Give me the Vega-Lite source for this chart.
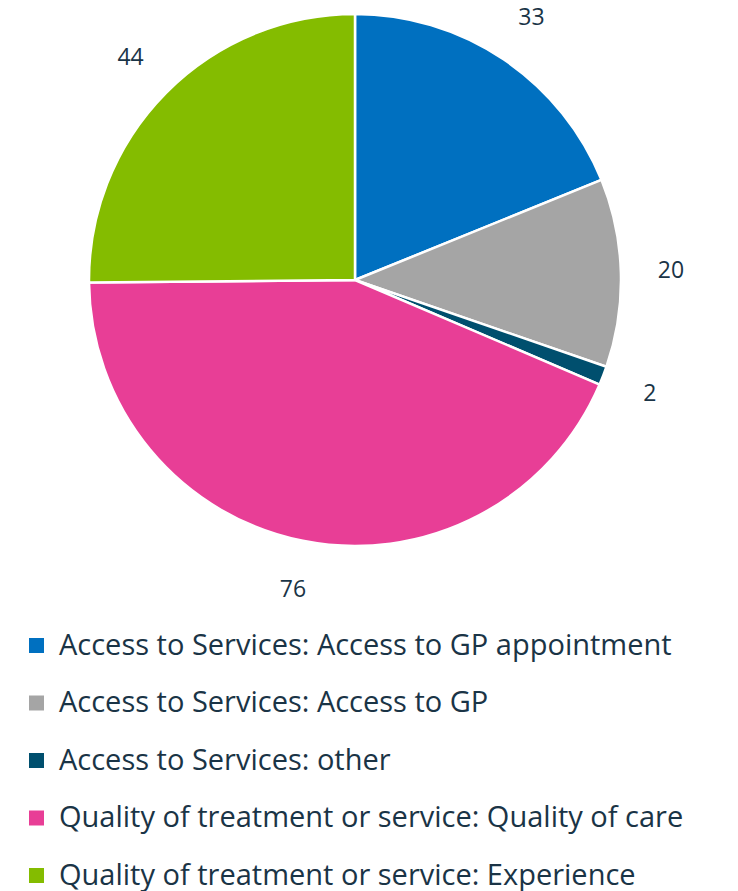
{
  "$schema": "https://vega.github.io/schema/vega-lite/v6.json",
  "width": 710,
  "height": 560,
  "autosize": {"type": "none"},
  "padding": {"left": 0, "top": 0, "right": 28, "bottom": 331},
  "background": "white",
  "config": {"view": {"stroke": null}, "font": "Open Sans"},
  "data": {
    "values": [
      {"category": "Access to Services: Access to GP appointment", "count": 33, "idx": 1},
      {"category": "Access to Services: Access to GP", "count": 20, "idx": 2},
      {"category": "Access to Services: other", "count": 2, "idx": 3},
      {"category": "Quality of treatment or service: Quality of care", "count": 76, "idx": 4},
      {"category": "Quality of treatment or service: Experience", "count": 44, "idx": 5}
    ]
  },
  "encoding": {
    "theta": {"field": "count", "type": "quantitative", "stack": true},
    "order": {"field": "idx", "type": "quantitative"}
  },
  "layer": [
    {
      "mark": {"type": "arc", "outerRadius": 266, "stroke": "white", "strokeWidth": 2.5},
      "encoding": {
        "color": {
          "field": "category",
          "type": "nominal",
          "sort": null,
          "scale": {
            "domain": [
              "Access to Services: Access to GP appointment",
              "Access to Services: Access to GP",
              "Access to Services: other",
              "Quality of treatment or service: Quality of care",
              "Quality of treatment or service: Experience"
            ],
            "range": ["#0070C0", "#A5A5A5", "#004F6E", "#E83E96", "#84BC00"]
          },
          "legend": {
            "title": null,
            "orient": "none",
            "legendX": 22,
            "legendY": 631,
            "direction": "vertical",
            "symbolType": "square",
            "symbolSize": 225,
            "symbolStrokeWidth": 0,
            "labelFontSize": 29,
            "labelColor": "#1A3446",
            "labelFont": "Open Sans",
            "labelOffset": 8,
            "labelLimit": 720,
            "rowPadding": 27.5
          }
        }
      }
    },
    {
      "mark": {"type": "text", "radius": 316, "fontSize": 23, "baseline": "middle", "color": "#1A3446", "font": "Open Sans"},
      "encoding": {
        "text": {"field": "count", "type": "quantitative"}
      }
    }
  ]
}
